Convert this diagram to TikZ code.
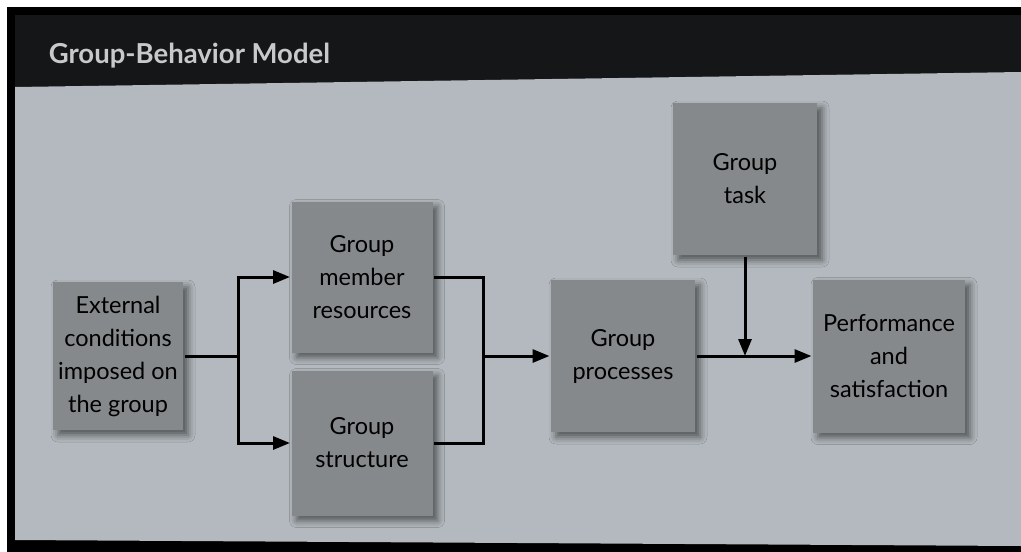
\documentclass[tikz,border=0pt]{standalone}
\usepackage{fontspec}
\setmainfont{Lato}
\usetikzlibrary{arrows.meta,shadows.blur}
\definecolor{page}{HTML}{B3B9BE}
\definecolor{boxgray}{HTML}{86898B}
\definecolor{band}{HTML}{151617}
\definecolor{titlegray}{HTML}{C8CACA}
\tikzset{
  blk/.style={fill=boxgray,align=center,inner sep=0pt,font=\fontsize{23.5}{33}\selectfont,
    blur shadow={shadow xshift=5pt,shadow yshift=-5pt,shadow blur radius=7pt,shadow opacity=55}},
  arr/.style={-{Triangle[length=17pt,width=13pt]}}
}
\begin{document}
\begin{tikzpicture}[x=1pt,y=-1pt,line width=3pt]
\useasboundingbox (0,0) rectangle (1021,552);
\fill[white] (0,0) rectangle (1021,552);
\fill[black] (7,7) rectangle (1021,552);
\fill[band] (15,15)--(1021,15)--(1021,72)--(15,87)--cycle;
\fill[page] (15,87)--(1021,72)--(1021,546)--(15,540)--cycle;
\node[anchor=base west,text=titlegray,font=\fontsize{27.5}{30}\bfseries\selectfont] (title) at (44,63) {Group-Behavior Model};
% boxes
\node[blk,minimum width=130pt,minimum height=148pt] (ext) at (118,356) {External\\conditions\\imposed on\\the group};
\node[blk,minimum width=141pt,minimum height=151pt] (mem) at (362,277) {Group\\member\\resources};
\node[blk,minimum width=141pt,minimum height=145pt] (str) at (362,443) {Group\\structure};
\node[blk,minimum width=144pt,minimum height=152pt] (proc) at (623,356) {Group\\processes};
\node[blk,minimum width=144pt,minimum height=152pt] (task) at (745,179) {Group\\task};
\node[blk,minimum width=152pt,minimum height=153pt] (perf) at (889,356) {Performance\\and\\satisfaction};
% connectors
\coordinate (split) at (238,356);
\coordinate (jn) at (483,356);
\draw (ext) -- (split);
\draw[arr] (split) |- (mem);
\draw[arr] (split) |- (str);
\draw (mem) -| (jn);
\draw (str) -| (jn);
\draw[arr] (jn) -- (proc);
\draw[arr] (proc) -- (perf);
\draw[arr] (task) -- (task |- proc);
\end{tikzpicture}
\end{document}
